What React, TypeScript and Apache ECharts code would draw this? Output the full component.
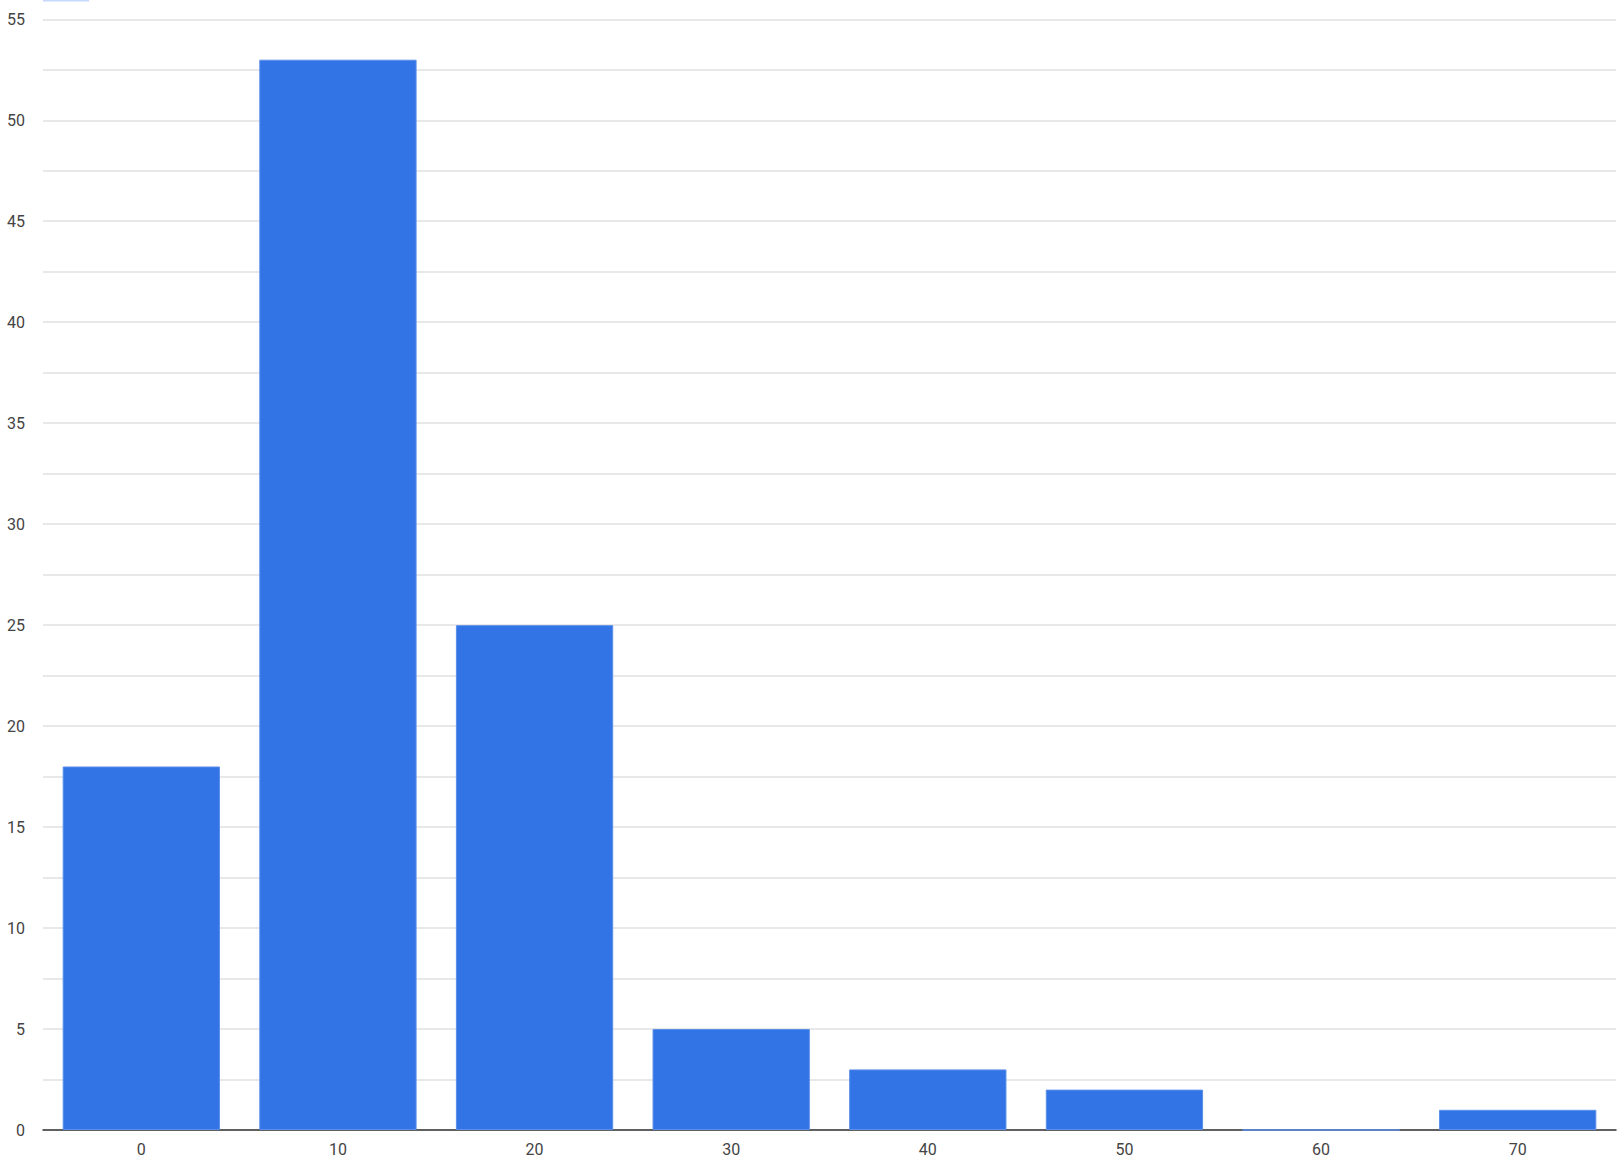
import React, { useEffect, useRef } from "react";
import * as echarts from "echarts";

const categories = ["0", "10", "20", "30", "40", "50", "60", "70"];
const counts = [18, 53, 25, 5, 3, 2, 0, 1];
const yMin = 0;
const yMax = 55;
const yGridStep = 2.5;
const yLabelStep = 5;

export default function App() {
  const ref = useRef<HTMLDivElement>(null);
  useEffect(() => {
    if (!ref.current) return;
    const chart = echarts.init(ref.current, null, { renderer: "svg" });
    chart.setOption({
      animation: false,
      backgroundColor: "#ffffff",
      textStyle: { fontFamily: "Roboto" },
      grid: { left: 43, right: 8, top: 19.3, bottom: 46, containLabel: false },
      graphic: [
        {
          type: "rect",
          left: 43,
          top: 0,
          shape: { width: 46, height: 1.5 },
          style: { fill: "#c6dafc" },
        },
      ],
      xAxis: {
        type: "category",
        data: categories,
        axisLine: { show: true, lineStyle: { color: "#333333", width: 1.5 } },
        axisTick: { show: false },
        axisLabel: { color: "#444444", fontSize: 16, margin: 11, fontFamily: "Roboto" },
        splitLine: { show: false },
      },
      yAxis: {
        type: "value",
        min: yMin,
        max: yMax,
        interval: yGridStep,
        axisLine: { show: false },
        axisTick: { show: false },
        axisLabel: {
          color: "#444444",
          fontSize: 16,
          margin: 18,
          fontFamily: "Roboto",
          formatter: (v: number) => (v % yLabelStep === 0 ? String(v) : ""),
        },
        splitLine: { show: true, lineStyle: { color: "#e0e0e0", width: 1.5 } },
      },
      series: [
        {
          type: "bar",
          data: counts,
          barCategoryGap: "20%",
          itemStyle: { color: "#3274e5", borderColor: "#5b8fea", borderWidth: 1 },
        },
      ],
    });
    return () => chart.dispose();
  }, []);
  return (
    <div
      ref={ref}
      style={{ position: "absolute", left: 0, top: 0, width: 1624, height: 1176 }}
    />
  );
}
